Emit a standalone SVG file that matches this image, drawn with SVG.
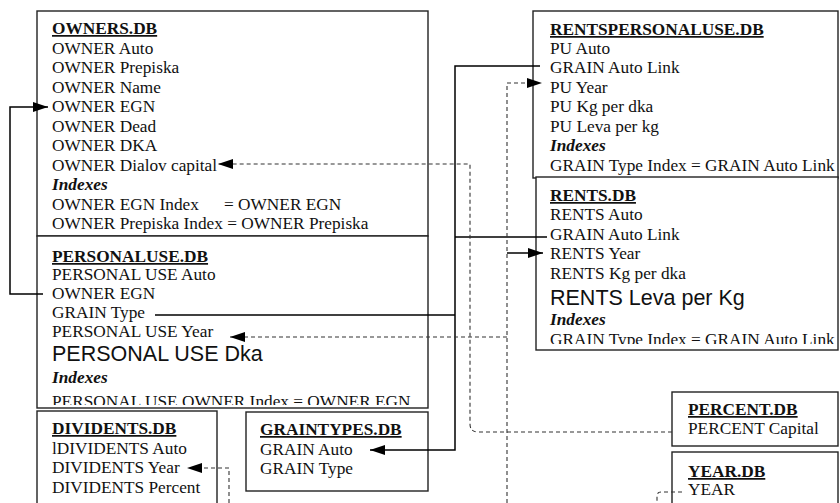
<svg xmlns="http://www.w3.org/2000/svg" width="840" height="503" viewBox="0 0 840 503">
<style>
.box{fill:#fff;stroke:#222;stroke-width:1.4}
text{font-family:"Liberation Serif","Times New Roman",serif;font-size:17.3px;fill:#111}
.h{font-weight:bold;text-decoration:underline}
.i{font-weight:bold;font-style:italic}
.big{font-family:"Liberation Sans",Arial,sans-serif;font-size:21.5px}
.s{fill:none;stroke:#000;stroke-width:1.5}
.d{fill:none;stroke:#333;stroke-width:1.1;stroke-dasharray:4 3}
</style>
<defs>
<marker id="ah" markerUnits="userSpaceOnUse" markerWidth="16" markerHeight="11" refX="15" refY="5" orient="auto" viewBox="0 0 16 11">
<path d="M0,0 L15,5 L0,10 z" fill="#000"/>
</marker>
<clipPath id="cpu"><rect x="37" y="236" width="391" height="169"/></clipPath>
<clipPath id="cr"><rect x="536" y="177" width="302" height="167"/></clipPath>
</defs>

<g id="owners">
<rect class="box" x="37" y="11" width="391" height="225"/>
<text x="52" y="34" class="h">OWNERS.DB</text>
<text x="52" y="53.5">OWNER Auto</text>
<text x="52" y="73">OWNER Prepiska</text>
<text x="52" y="92.5">OWNER Name</text>
<text x="52" y="112">OWNER EGN</text>
<text x="52" y="131.5">OWNER Dead</text>
<text x="52" y="151">OWNER DKA</text>
<text x="52" y="170.5">OWNER Dialov capital</text>
<text x="52" y="190" class="i">Indexes</text>
<text x="52" y="209.5">OWNER EGN Index<tspan x="224">= OWNER EGN</tspan></text>
<text x="52" y="229">OWNER Prepiska Index = OWNER Prepiska</text>
</g>

<g id="personaluse">
<rect class="box" x="37" y="236" width="391" height="172"/>
<g clip-path="url(#cpu)">
<text x="52" y="262" class="h">PERSONALUSE.DB</text>
<text x="52" y="280">PERSONAL USE Auto</text>
<text x="52" y="299">OWNER EGN</text>
<text x="52" y="318">GRAIN Type</text>
<text x="52" y="337">PERSONAL USE Year</text>
<text x="52" y="361" class="big">PERSONAL USE Dka</text>
<text x="52" y="383" class="i">Indexes</text>
<text x="52" y="407">PERSONAL USE OWNER Index = OWNER EGN</text>
</g>
</g>

<g id="dividents">
<rect class="box" x="37" y="411" width="180" height="100"/>
<text x="52" y="434" class="h">DIVIDENTS.DB</text>
<text x="52" y="454">lDIVIDENTS Auto</text>
<text x="52" y="473">DIVIDENTS Year</text>
<text x="52" y="493">DIVIDENTS Percent</text>
</g>

<g id="graintypes">
<rect class="box" x="246" y="412" width="182" height="79"/>
<text x="260" y="435" class="h">GRAINTYPES.DB</text>
<text x="260" y="455">GRAIN Auto</text>
<text x="260" y="474">GRAIN Type</text>
</g>

<g id="rentspersonaluse">
<rect class="box" x="533" y="11" width="305" height="167"/>
<text x="550" y="35" class="h">RENTSPERSONALUSE.DB</text>
<text x="550" y="53.5">PU Auto</text>
<text x="550" y="73">GRAIN Auto Link</text>
<text x="550" y="92.5">PU Year</text>
<text x="550" y="112">PU Kg per dka</text>
<text x="550" y="131.5">PU Leva per kg</text>
<text x="550" y="151" class="i">Indexes</text>
<text x="550" y="170.5">GRAIN Type Index = GRAIN Auto Link</text>
</g>

<g id="rents">
<rect class="box" x="536" y="177" width="302" height="173"/>
<g clip-path="url(#cr)">
<text x="550" y="201" class="h">RENTS.DB</text>
<text x="550" y="220">RENTS Auto</text>
<text x="550" y="240">GRAIN Auto Link</text>
<text x="550" y="259">RENTS Year</text>
<text x="550" y="279">RENTS Kg per dka</text>
<text x="550" y="305" class="big">RENTS Leva per Kg</text>
<text x="550" y="325" class="i">Indexes</text>
<text x="550" y="345">GRAIN Type Index = GRAIN Auto Link</text>
</g>
</g>

<g id="percent">
<rect class="box" x="672" y="392" width="166" height="54"/>
<text x="688" y="415" class="h">PERCENT.DB</text>
<text x="688" y="434">PERCENT Capital</text>
</g>

<g id="year">
<rect class="box" x="672" y="452" width="166" height="60"/>
<text x="688" y="477" class="h">YEAR.DB</text>
<text x="688" y="495">YEAR</text>
</g>

<g id="connectors">
<path class="s" d="M43,294 H10 V107 H48" marker-end="url(#ah)"/>
<path class="s" d="M155,315 H455"/>
<path class="s" d="M540,66 H455 V450 H370" marker-end="url(#ah)"/>
<path class="s" d="M455,237 H547"/>
<path class="d" d="M672,432 H478 Q470,432 470,424 V164 H218" marker-end="url(#ah)"/>
<path class="d" d="M507,503 V83 H542" marker-end="url(#ah)"/>
<path class="d" d="M507,337 H230" marker-end="url(#ah)"/>
<path class="s" d="M507,253 H543" marker-end="url(#ah)"/>
<path class="d" d="M229,503 V468 H187" marker-end="url(#ah)"/>
<path class="d" d="M682,492 H661 Q657,492 657,496 V503"/>
</g>
</svg>
